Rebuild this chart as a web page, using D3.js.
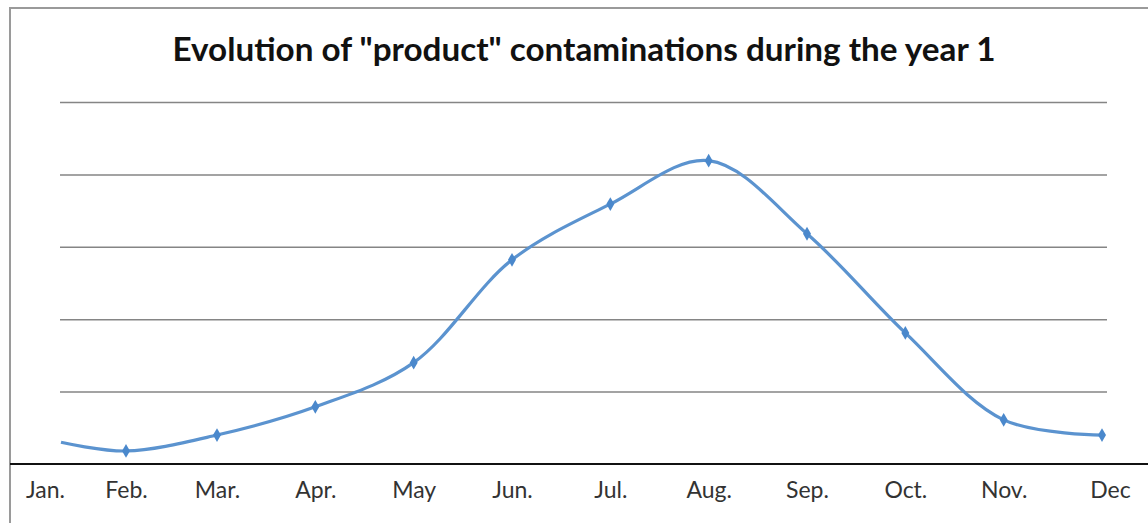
<!DOCTYPE html>
<html>
<head>
<meta charset="utf-8">
<script src="https://cdn.jsdelivr.net/npm/d3@7"></script>
<style>
  body { margin: 0; background: #fff; }
  svg { display: block; }
</style>
</head>
<body>
<div id="chart"></div>
<script>
const months = ["Jan.", "Feb.", "Mar.", "Apr.", "May", "Jun.", "Jul.", "Aug.", "Sep.", "Oct.", "Nov.", "Dec"];
const contaminations = [0.30, 0.18, 0.40, 0.79, 1.40, 2.82, 3.59, 4.19, 3.18, 1.81, 0.61, 0.40];
const gridValues = [1, 2, 3, 4, 5];
const titleText = 'Evolution of "product" contaminations during the year 1';

const width = 1148, height = 523;
const baseY = 464, topY = 102;

var svg = d3.select("#chart")
    .append("svg")
    .attr("width", width)
    .attr("height", height);

// outer chart border (runs past the right/bottom edge)
svg.append("rect")
    .attr("x", 10)
    .attr("y", 8)
    .attr("width", width + 20)
    .attr("height", height + 20)
    .attr("fill", "white")
    .attr("stroke", "#9a9a9a")
    .attr("stroke-width", 2);

svg.append("text")
    .attr("x", 584)
    .attr("y", 61)
    .attr("text-anchor", "middle")
    .style("font-family", "Lato, 'Open Sans', sans-serif")
    .style("font-weight", "bold")
    .style("font-size", "32px")
    .attr("textLength", 823)
    .attr("lengthAdjust", "spacingAndGlyphs")
    .attr("fill", "#111")
    .text(titleText);

// x positions of the months (picture is slightly squeezed on the left)
var x = d3.scaleLinear()
    .domain([0, 1, 2, 11])
    .range([61, 126, 217, 1102]);

var y = d3.scaleLinear()
    .domain([0, 5])
    .range([baseY, topY]);

// horizontal gridlines
var grid = svg.append("g")
    .attr("transform", "translate(60,0)")
    .call(d3.axisLeft(y).tickValues(gridValues).tickSize(-1047).tickFormat(""));
grid.select(".domain").remove();
grid.selectAll(".tick line")
    .attr("stroke", "#858585")
    .attr("stroke-width", 1.5);

// category axis
var xAxis = svg.append("g")
    .attr("transform", "translate(0," + baseY + ")")
    .call(d3.axisBottom(x)
        .tickValues(d3.range(months.length))
        .tickFormat(function(i) { return months[i]; })
        .tickSize(0)
        .tickPadding(18));
xAxis.select(".domain").remove();
xAxis.selectAll("text")
    .style("font-family", "Lato, 'Open Sans', sans-serif")
    .style("font-size", "23px")
    .attr("fill", "#333")
    .attr("dx", function(i) { return i === 0 ? -16 : (i === 11 ? 8 : 0); });

svg.append("line")
    .attr("x1", 10)
    .attr("x2", width)
    .attr("y1", baseY)
    .attr("y2", baseY)
    .attr("stroke", "#111")
    .attr("stroke-width", 2);

var line = d3.line()
    .x(function(d, i) { return x(i); })
    .y(function(d) { return y(d); })
    .curve(d3.curveCatmullRom.alpha(0.5));

svg.append("path")
    .datum(contaminations)
    .attr("d", line)
    .attr("fill", "none")
    .attr("stroke", "#5b93cf")
    .attr("stroke-width", 3.2);

svg.selectAll(".marker")
    .data(contaminations)
    .enter()
    .append("path")
    .attr("class", "marker")
    .attr("d", d3.symbol().type(d3.symbolDiamond).size(55))
    .attr("transform", function(d, i) { return "translate(" + x(i) + "," + y(d) + ")"; })
    .attr("fill", "#4a88cc")
    .attr("opacity", function(d, i) { return i === 0 ? 0 : 1; });
</script>
</body>
</html>
